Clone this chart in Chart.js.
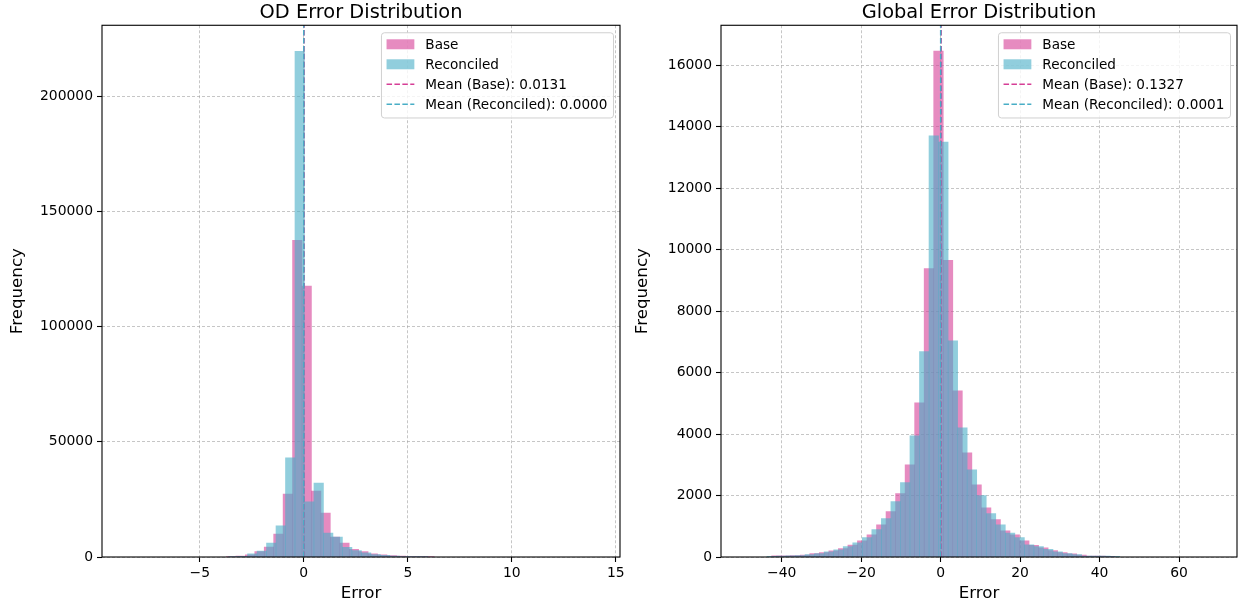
<!DOCTYPE html>
<html>
<head>
<meta charset="utf-8">
<script src="https://cdn.jsdelivr.net/npm/chart.js@4.4.1/dist/chart.umd.min.js"></script>
<style>
  html, body { margin: 0; padding: 0; background: #fff; }
  #wrap { position: relative; width: 1238px; height: 607px; }
  canvas { position: absolute; top: 0; }
</style>
</head>
<body>
<div id="wrap">
  <canvas id="odChart" width="632" height="607" style="left:0"></canvas>
  <canvas id="globalChart" width="613" height="607" style="left:625px"></canvas>
</div>
<script>
// ---- OD error histogram (first bin edge, bin width, counts per bin) ----
const odBaseEdge0 = -3.716;
const odBaseBinWidth = 0.4537;
const odBaseCounts = [30, 400, 900, 2300, 4300, 10000, 27300, 137500, 117600, 28600, 19100, 8700,
  6000, 3300, 2300, 1400, 900, 600, 400, 200, 100, 50];
const odReconEdge0 = -3.615;
const odReconBinWidth = 0.456;
const odReconCounts = [50, 300, 1400, 2600, 6000, 13500, 43000, 219500, 23900, 32100, 10400, 8700,
  4200, 2800, 1800, 1100, 700, 400, 200, 100, 50];
const odMeans = [0.0131, 0.0000];   // base, reconciled
const odXTicks = [-5, 0, 5, 10, 15];
const odYTicks = [0, 50000, 100000, 150000, 200000];

// ---- Global error histogram ----
const glBaseEdge0 = -42.55;
const glBaseBinWidth = 2.40;
const glBaseCounts = [40, 40, 50, 60, 110, 140, 200, 270, 390, 530, 725, 1050, 1480, 2060, 3000, 5020,
  9380, 16460, 9650, 5410, 3390, 2350, 1600, 1215, 855, 725, 530, 380, 300, 210, 140, 100, 65, 30, 30, 20];
const glReconEdge0 = -43.73;
const glReconBinWidth = 2.40;
const glReconCounts = [20, 30, 40, 50, 75, 110, 170, 237, 335, 465, 630, 890, 1250, 1800, 2420, 3945,
  6680, 13700, 13500, 7030, 4200, 2840, 2000, 1410, 1050, 780, 630, 400, 335, 250, 170, 110, 80, 30, 30, 30, 20];
const glMeans = [0.1327, 0.0001];
const glXTicks = [-40, -20, 0, 20, 40, 60];
const glYTicks = [0, 2000, 4000, 6000, 8000, 10000, 12000, 14000, 16000];

const FONT = 'DejaVu Sans';
const PINK = 'rgb(214,62,150)';
const PINK_FILL = 'rgba(214,62,150,0.6)';
const TEAL = 'rgb(72,174,198)';
const TEAL_FILL = 'rgba(72,174,198,0.6)';

function binPoints(edge0, width, counts) {
  return counts.map((c, i) => ({ x: edge0 + width * (i + 0.5), y: c }));
}

function fmt(v) {
  return String(v).replace('-', '\u2212');
}

// matplotlib-like box around the plot area
const framePlugin = {
  id: 'frame',
  afterDatasetsDraw(chart) {
    const { ctx, chartArea: a } = chart;
    ctx.save();
    ctx.strokeStyle = '#000';
    ctx.lineWidth = 1.1;
    ctx.strokeRect(a.left, a.top, a.right - a.left, a.bottom - a.top);
    ctx.restore();
  }
};

// legend box in the upper right corner of the plot area
const cornerLegend = {
  id: 'cornerLegend',
  afterDraw(chart) {
    const { ctx, chartArea: a } = chart;
    const size = 13.6, rowH = 20, pad = 5.6, handle = 27.8, gap = 11;
    const items = chart.data.datasets;
    ctx.save();
    ctx.font = size + 'px "' + FONT + '"';
    const textW = Math.max(...items.map(d => ctx.measureText(d.label).width));
    const w = pad + handle + gap + textW + pad;
    const h = pad * 2 + rowH * items.length - 6;
    const x = a.right - 7 - w, y = a.top + 7;
    ctx.beginPath();
    ctx.roundRect(x + 0.5, y + 0.5, w, h, 3);
    ctx.fillStyle = 'rgba(255,255,255,0.8)';
    ctx.fill();
    ctx.strokeStyle = '#d0d0d0';
    ctx.lineWidth = 1;
    ctx.stroke();
    items.forEach((d, i) => {
      const cy = y + 12 + i * rowH;
      const hx = x + pad;
      if (d.type === 'line') {
        ctx.strokeStyle = d.borderColor;
        ctx.lineWidth = 1.5;
        ctx.setLineDash(d.borderDash);
        ctx.beginPath();
        ctx.moveTo(hx, cy);
        ctx.lineTo(hx + handle, cy);
        ctx.stroke();
        ctx.setLineDash([]);
      } else {
        ctx.fillStyle = d.backgroundColor;
        ctx.fillRect(hx, cy - 5, handle, 10);
      }
      ctx.fillStyle = '#000';
      ctx.textBaseline = 'middle';
      ctx.fillText(d.label, hx + handle + gap, cy + 1);
    });
    ctx.restore();
  }
};

function histChart(id, o) {
  const gridOpts = {
    offset: false,
    color: 'rgba(160,160,160,0.75)',
    lineWidth: 0.8,
    drawTicks: true,
    tickLength: 5,
    tickColor: '#000',
    tickWidth: 1.1,
    tickBorderDash: []
  };
  const tickFont = { family: FONT, size: 13.9 };
  const titleFont = { family: FONT, size: 16.7 };
  const chart = new Chart(document.getElementById(id), {
    type: 'bar',
    data: {
      datasets: [
        {
          label: 'Base',
          data: binPoints(o.baseEdge0, o.baseWidth, o.baseCounts),
          backgroundColor: PINK_FILL,
          grouped: false,
          order: 4
        },
        {
          label: 'Reconciled',
          data: binPoints(o.reconEdge0, o.reconWidth, o.reconCounts),
          backgroundColor: TEAL_FILL,
          grouped: false,
          order: 3
        },
        {
          type: 'line',
          label: 'Mean (Base): ' + o.means[0].toFixed(4),
          data: [{ x: o.means[0], y: 0 }, { x: o.means[0], y: o.yMax }],
          borderColor: PINK,
          borderWidth: 1.5,
          borderDash: [5.5, 2.4],
          pointRadius: 0,
          fill: false,
          order: 2
        },
        {
          type: 'line',
          label: 'Mean (Reconciled): ' + o.means[1].toFixed(4),
          data: [{ x: o.means[1], y: 0 }, { x: o.means[1], y: o.yMax }],
          borderColor: TEAL,
          borderWidth: 1.5,
          borderDash: [5.5, 2.4],
          pointRadius: 0,
          fill: false,
          order: 1
        }
      ]
    },
    options: {
      responsive: false,
      animation: false,
      layout: { autoPadding: false, padding: { left: 0, right: o.padRight, top: 0, bottom: 0 } },
      plugins: {
        legend: { display: false },
        tooltip: { enabled: false },
        title: {
          display: true,
          fullSize: false,
          text: o.title,
          color: '#000',
          font: { family: FONT, size: 19.4, weight: 'normal' },
          padding: { top: 1, bottom: 1 }
        }
      },
      scales: {
        x: {
          type: 'linear',
          min: o.xMin,
          max: o.xMax,
          offset: false,
          grid: gridOpts,
          border: { display: false, dash: [3, 2] },
          ticks: { font: tickFont, color: '#000', padding: 3, maxRotation: 0, callback: v => fmt(v) },
          afterBuildTicks: s => { s.ticks = o.xTicks.map(v => ({ value: v })); },
          afterFit: s => { s.height = 50; },
          title: { display: true, text: 'Error', color: '#000', font: titleFont, padding: { top: 0, bottom: 3 } }
        },
        y: {
          min: 0,
          max: o.yMax,
          grid: gridOpts,
          border: { display: false, dash: [3, 2] },
          ticks: { font: tickFont, color: '#000', padding: 4, callback: v => String(v) },
          afterBuildTicks: s => { s.ticks = o.yTicks.map(v => ({ value: v })); },
          afterFit: s => { s.width = o.yWidth; },
          title: { display: true, text: 'Frequency', color: '#000', font: titleFont, padding: { top: 8, bottom: 0 } }
        }
      }
    },
    plugins: [framePlugin, cornerLegend]
  });
  // each histogram bar is exactly one bin wide on the x scale
  const xs = chart.scales.x;
  const binPx = w => Math.abs(xs.getPixelForValue(w) - xs.getPixelForValue(0));
  chart.data.datasets[0].barThickness = binPx(o.baseWidth);
  chart.data.datasets[1].barThickness = binPx(o.reconWidth);
  chart.update('none');
  return chart;
}

histChart('odChart', {
  title: 'OD Error Distribution',
  baseEdge0: odBaseEdge0, baseWidth: odBaseBinWidth, baseCounts: odBaseCounts,
  reconEdge0: odReconEdge0, reconWidth: odReconBinWidth, reconCounts: odReconCounts,
  means: odMeans, xTicks: odXTicks, yTicks: odYTicks,
  xMin: -9.7, xMax: 15.2, yMax: 230800,
  yWidth: 102, padRight: 12
});

histChart('globalChart', {
  title: 'Global Error Distribution',
  baseEdge0: glBaseEdge0, baseWidth: glBaseBinWidth, baseCounts: glBaseCounts,
  reconEdge0: glReconEdge0, reconWidth: glReconBinWidth, reconCounts: glReconCounts,
  means: glMeans, xTicks: glXTicks, yTicks: glYTicks,
  xMin: -55.3, xMax: 74.6, yMax: 17300,
  yWidth: 96, padRight: 1
});
</script>
</body>
</html>
